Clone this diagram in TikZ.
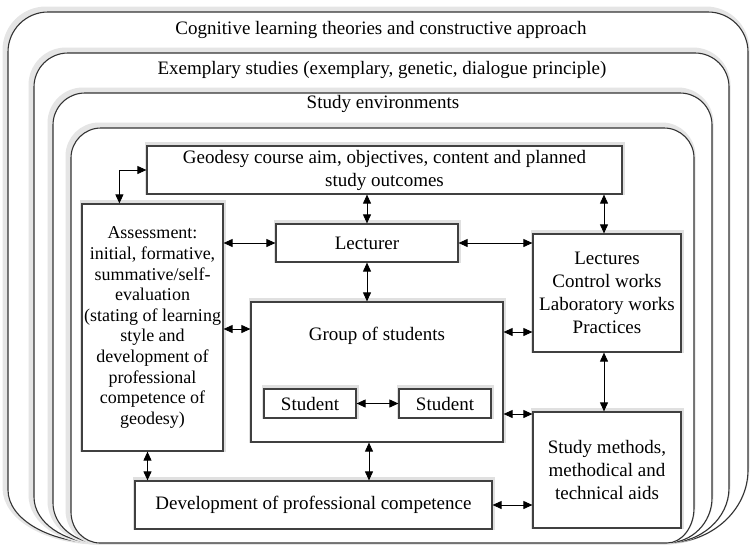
\documentclass[tikz,border=0pt]{standalone}
\usepackage{fontspec}
\setmainfont{Liberation Serif}
\usetikzlibrary{arrows.meta,calc}
\newcommand{\mainsz}{\fontsize{19}{23}\selectfont}
\newcommand{\asssz}{\fontsize{18}{20.6}\selectfont}
% #1 L, #2 T, #3 R, #4 r, #5 yBL, #6 yBR
\newcommand{\nestshape}[6]{%
  \path[shapeline] (#1,#5) -- (#1,{#2+#4})
    .. controls (#1,{#2+0.448*#4}) and ({#1+0.448*#4},#2) .. ({#1+#4},#2)
    -- ({#3-#4},#2)
    .. controls ({#3-0.448*#4},#2) and (#3,{#2+0.448*#4}) .. (#3,{#2+#4})
    -- (#3,#6)
    .. controls (#3,{#6+0.55*(543-#6)}) and ({667+0.55*(#3-667)},543) .. (667,543)
    -- (100,543)
    .. controls ({100-0.55*(100-#1)},543) and (#1,{#5+0.55*(543-#5)}) .. (#1,#5)
    -- cycle;}
\tikzset{
  shapeline/.style={draw=black!80, line width=1.1pt, fill=white,
    preaction={draw=black!10, line width=7pt, transform canvas={xshift=-2pt,yshift=2pt}}},
  box/.style={draw=black!75, line width=1.2pt, fill=white, inner sep=0pt, align=center,
    font=\mainsz, preaction={draw=black!12, line width=5pt, transform canvas={yshift=2pt}}},
  dbl/.style={{Triangle[length=9pt,width=8pt]}-{Triangle[length=9pt,width=8pt]}, line width=0.9pt, black},
  title/.style={font=\mainsz, inner sep=0pt}
}
\begin{document}
\begin{tikzpicture}[x=1pt,y=-1pt]
\useasboundingbox (0,0) rectangle (750,544);
% nested environments
\nestshape{8}{12}{748}{40}{490}{470}
\nestshape{34}{53}{729}{34}{497}{488}
\nestshape{53}{93}{712}{32}{503}{498}
\nestshape{71}{128}{694}{30}{512}{508}
\node[title] (t1) at (381,30) {Cognitive learning theories and constructive approach};
\node[title] (t2) at (382,70) {Exemplary studies (exemplary, genetic, dialogue principle)};
\node[title] (t3) at (383,104) {Study environments};
% boxes
\node[box, minimum width=475pt, minimum height=48pt] (geo) at (384.5,170)
  {Geodesy course aim, objectives, content and planned\\study outcomes};
\node[box, minimum width=141pt, minimum height=247pt, font=\asssz] (assess) at (152.5,327.5)
  {Assessment:\\initial, formative,\\summative/self-\\evaluation\\(stating of learning\\style and\\development of\\professional\\competence of\\geodesy)};
\node[box, minimum width=182pt, minimum height=38pt] (lect) at (367,243) {Lecturer};
\node[box, minimum width=148pt, minimum height=118pt] (lects) at (607,293)
  {Lectures\\Control works\\Laboratory works\\Practices};
\node[box, minimum width=252pt, minimum height=140pt] (group) at (377,372) {};
\node[title] (grouptext) at (377,336) {Group of students};
\node[box, minimum width=92pt, minimum height=29pt] (s1) at (310,403.5) {Student};
\node[box, minimum width=92pt, minimum height=29pt] (s2) at (445,403.5) {Student};
\node[box, minimum width=148pt, minimum height=116pt] (meth) at (607,470)
  {Study methods,\\methodical and\\technical aids};
\node[box, minimum width=357pt, minimum height=48pt] (dev) at (313.5,505)
  {Development of professional competence};
% connectors
\draw[dbl] (geo.west) -| ($(assess.north west)+(38,0)$);
\draw[dbl] (lect.north |- geo.south) -- (lect.north);
\draw[dbl] ([xshift=-3pt]lects.north |- geo.south) -- ([xshift=-3pt]lects.north);
\draw[dbl] (assess.east |- lect.west) -- (lect.west);
\draw[dbl] (lect.east) -- (lects.west |- lect.east);
\draw[dbl] (lect.south) -- (group.north -| lect.south);
\draw[dbl] (assess.east |- 0,329) -- (group.west |- 0,329);
\draw[dbl] (group.east |- 0,332) -- (lects.west |- 0,332);
\draw[dbl] (s1.east) -- (s2.west);
\draw[dbl] (group.east |- 0,414) -- (meth.west |- 0,414);
\draw[dbl] ([xshift=-3pt]lects.south) -- ([xshift=-3pt]meth.north);
\draw[dbl] ([xshift=-8pt]group.south) -- ([xshift=-8pt]group.south |- dev.north);
\draw[dbl] ([xshift=-5pt]assess.south) -- ([xshift=-5pt]assess.south |- dev.north);
\draw[dbl] (dev.east) -- (meth.west |- dev.east);
\end{tikzpicture}
\end{document}
